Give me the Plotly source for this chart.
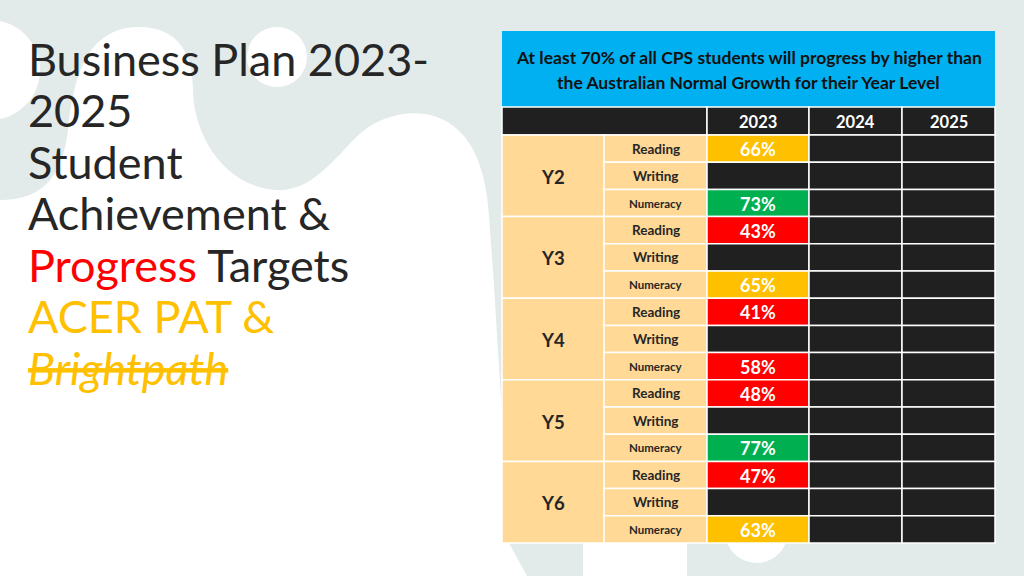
import plotly.graph_objects as go

# ---------------- data ----------------
title_lines = ["Business Plan 2023-", "2025", "Student", "Achievement &"]
title_red_word = "Progress"
title_after_red = "Targets"
title_yellow = "ACER PAT &"
title_struck = "Brightpath"

header_lines = [
    "At least 70% of all CPS students will progress by higher than",
    "the Australian Normal Growth for their Year Level",
]
year_groups = ["Y2", "Y3", "Y4", "Y5", "Y6"]
subjects = ["Reading", "Writing", "Numeracy"]
years = ["2023", "2024", "2025"]
progress_2023 = [66, None, 73, 43, None, 65, 41, None, 58, 48, None, 77, 47, None, 63]
progress_2024 = [None, None, None, None, None, None, None, None, None, None, None, None, None, None, None]
progress_2025 = [None, None, None, None, None, None, None, None, None, None, None, None, None, None, None]
progress_by_year = [progress_2023, progress_2024, progress_2025]

# ---------------- style / layout constants ----------------
W, H = 1024, 576
BG = "#e3eaea"
DARK = "#202020"
PEACH = "#ffd995"
BLUE = "#00b0f0"
GREEN = "#00b050"
AMBER = "#ffc000"
RED = "#ff0000"
TXT = "#262626"
FONT = "Lato"

X_EDGES = [502, 604, 707, 809, 902, 995]
TOP, BLUE_BOTTOM, HEAD_BOTTOM, TABLE_BOTTOM = 31, 107, 135, 543
n_rows = len(year_groups) * len(subjects)
ROW_H = (TABLE_BOTTOM - HEAD_BOTTOM) / n_rows


def status_colour(v):
    if v is None:
        return DARK
    if v >= 70:
        return GREEN
    if v >= 60:
        return AMBER
    return RED


shapes = []
annotations = []

# ---------------- background blobs ----------------
white = dict(fillcolor="white", line=dict(width=0), layer="below", xref="x", yref="y")
shapes.append(dict(type="path", path=(
    "M 0,200 C 40,200 62,180 68,130 C 74,70 90,30 135,27 C 175,25 193,50 193,90 "
    "C 193,130 220,185 275,190 C 315,193 340,150 362,132 C 385,113 425,105 452,125 "
    "C 480,145 488,185 490,230 L 493,270 L 510,545 L 527,576 L 0,576 Z"), **white))
shapes.append(dict(type="circle", x0=-60, y0=20, x1=40, y1=120, **white))
shapes.append(dict(type="circle", x0=247, y0=27, x1=307, y1=87, **white))
shapes.append(dict(type="rect", x0=583, y0=480, x1=687, y1=580, **white))
shapes.append(dict(type="circle", x0=725, y0=500, x1=788, y1=563, **white))

# ---------------- title text ----------------
TS = 45
LINE = 51.5
BASE0 = 76
TX = 26
def ann_y(baseline, size):
    return baseline - 0.387 * size

for i, line in enumerate(title_lines):
    annotations.append(dict(x=TX, y=ann_y(BASE0 + i * LINE, TS), text=line, xanchor="left",
                            yanchor="middle", showarrow=False,
                            font=dict(family=FONT, size=TS, color=TXT)))
annotations.append(dict(x=TX, y=ann_y(BASE0 + 4 * LINE, TS),
                        text=f"<span style='color:#ff0000'>{title_red_word}</span> {title_after_red}",
                        xanchor="left", yanchor="middle", showarrow=False,
                        font=dict(family=FONT, size=TS, color=TXT)))
annotations.append(dict(x=TX, y=ann_y(BASE0 + 5 * LINE, TS), text=title_yellow,
                        xanchor="left", yanchor="middle", showarrow=False,
                        font=dict(family=FONT, size=TS, color=AMBER)))
annotations.append(dict(x=TX, y=ann_y(BASE0 + 6 * LINE, TS), text=title_struck,
                        xanchor="left", yanchor="middle", showarrow=False,
                        font=dict(family=FONT, size=TS, color=AMBER, style="italic",
                                  lineposition="through")))

# ---------------- table ----------------
tx0, tx1 = X_EDGES[0], X_EDGES[-1]
cell_line = dict(color="white", width=1.5)

# blue banner
shapes.append(dict(type="rect", x0=tx0, x1=tx1, y0=TOP, y1=BLUE_BOTTOM, fillcolor=BLUE,
                   line=dict(width=0), xref="x", yref="y"))
HS = 17.5
for i, t in enumerate(header_lines):
    annotations.append(dict(x=(tx0 + tx1) / 2, y=ann_y(64 + i * 25, HS), text=f"<b>{t}</b>",
                            showarrow=False, xanchor="center", yanchor="middle",
                            font=dict(family=FONT, size=HS, color="#111111")))

# header row
shapes.append(dict(type="rect", x0=tx0, x1=X_EDGES[2], y0=BLUE_BOTTOM, y1=HEAD_BOTTOM,
                   fillcolor=DARK, line=cell_line, xref="x", yref="y"))
for j, yr in enumerate(years):
    xa, xb = X_EDGES[2 + j], X_EDGES[3 + j]
    shapes.append(dict(type="rect", x0=xa, x1=xb, y0=BLUE_BOTTOM, y1=HEAD_BOTTOM,
                       fillcolor=DARK, line=cell_line, xref="x", yref="y"))
    annotations.append(dict(x=(xa + xb) / 2, y=(BLUE_BOTTOM + HEAD_BOTTOM) / 2 + 1,
                            text=f"<b>{yr}</b>", showarrow=False,
                            font=dict(family=FONT, size=16.5, color="white")))

# body
for g, grp in enumerate(year_groups):
    gy0 = HEAD_BOTTOM + g * len(subjects) * ROW_H
    gy1 = gy0 + len(subjects) * ROW_H
    shapes.append(dict(type="rect", x0=X_EDGES[0], x1=X_EDGES[1], y0=gy0, y1=gy1,
                       fillcolor=PEACH, line=cell_line, xref="x", yref="y"))
    annotations.append(dict(x=(X_EDGES[0] + X_EDGES[1]) / 2, y=(gy0 + gy1) / 2 + 1,
                            text=f"<b>{grp}</b>", showarrow=False,
                            font=dict(family=FONT, size=18.5, color=TXT)))
    for s, subj in enumerate(subjects):
        r = g * len(subjects) + s
        ry0 = HEAD_BOTTOM + r * ROW_H
        ry1 = ry0 + ROW_H
        shapes.append(dict(type="rect", x0=X_EDGES[1], x1=X_EDGES[2], y0=ry0, y1=ry1,
                           fillcolor=PEACH, line=cell_line, xref="x", yref="y"))
        annotations.append(dict(x=(X_EDGES[1] + X_EDGES[2]) / 2, y=(ry0 + ry1) / 2,
                                text=f"<b>{subj}</b>", showarrow=False,
                                font=dict(family=FONT, size=11.5 if subj == "Numeracy" else 13.5,
                                          color=TXT)))
        for j, series in enumerate(progress_by_year):
            v = series[r]
            xa, xb = X_EDGES[2 + j], X_EDGES[3 + j]
            shapes.append(dict(type="rect", x0=xa, x1=xb, y0=ry0, y1=ry1,
                               fillcolor=status_colour(v), line=cell_line, xref="x", yref="y"))
            if v is not None:
                annotations.append(dict(x=(xa + xb) / 2, y=(ry0 + ry1) / 2 + 0.5,
                                        text=f"<b>{v}%</b>", showarrow=False,
                                        font=dict(family=FONT, size=18, color="white")))

fig = go.Figure()
fig.add_trace(go.Scatter(x=[0, W], y=[0, H], mode="markers", marker=dict(opacity=0),
                         hoverinfo="skip", showlegend=False))
fig.update_layout(
    width=W, height=H, margin=dict(l=0, r=0, t=0, b=0),
    paper_bgcolor=BG, plot_bgcolor=BG,
    xaxis=dict(range=[0, W], visible=False, fixedrange=True),
    yaxis=dict(range=[H, 0], visible=False, fixedrange=True),
    shapes=shapes, annotations=annotations, showlegend=False,
)
fig.write_html("out.html", config={"displayModeBar": False},
               post_script="document.body.style.margin='0';")
